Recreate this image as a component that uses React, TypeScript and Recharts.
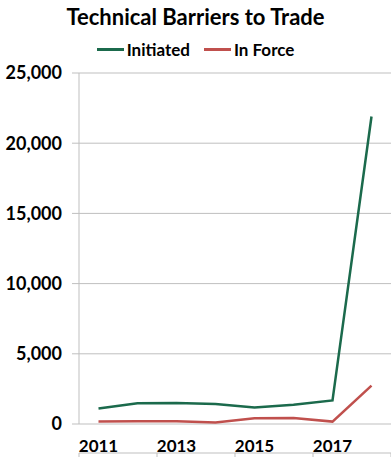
import React from 'react';
import { LineChart, Line, XAxis, YAxis, CartesianGrid } from 'recharts';

const years = [2011, 2012, 2013, 2014, 2015, 2016, 2017, 2018];
const initiated = [1100, 1480, 1500, 1420, 1180, 1370, 1680, 21900];
const inForce = [180, 190, 190, 110, 410, 420, 170, 2730];

const yearLabels = [2011, 2013, 2015, 2017];
const yTicks = [0, 5000, 10000, 15000, 20000, 25000];
// tick marks sit between categories, every other year
const boundaryTicks = [2010.5, 2012.5, 2014.5, 2016.5, 2018.5];

const data = years.map((year, i) => ({
  year,
  initiated: initiated[i],
  inForce: inForce[i],
}));

const GREEN = '#1b6a4c';
const RED = '#c0504d';
const GRID = '#bfbfbf';
const FONT = 'Lato, "Open Sans", sans-serif';

const yTickStyle = { fill: '#000', fontSize: 18, fontWeight: 700, fontFamily: FONT };
const xTickStyle = { fill: '#000', fontSize: 17, fontWeight: 700, fontFamily: FONT };

function LegendItem({ color, label }: { color: string; label: string }) {
  return (
    <span style={{ display: 'inline-flex', alignItems: 'center', margin: '0 7px' }}>
      <span style={{ width: 27, height: 3, background: color, marginRight: 3 }} />
      {label}
    </span>
  );
}

export default function App() {
  return (
    <div
      style={{
        position: 'absolute',
        left: 0,
        top: 0,
        width: 391,
        height: 457,
        background: '#fff',
        fontFamily: FONT,
      }}
    >
      <div
        style={{
          position: 'absolute',
          top: 3,
          width: 391,
          textAlign: 'center',
          fontSize: 22,
          fontWeight: 700,
          color: '#000',
        }}
      >
        Technical Barriers to Trade
      </div>
      <div
        style={{
          position: 'absolute',
          top: 39,
          width: 391,
          display: 'flex',
          justifyContent: 'center',
          fontSize: 17,
          fontWeight: 700,
          color: '#000',
        }}
      >
        <LegendItem color={GREEN} label="Initiated" />
        <LegendItem color={RED} label="In Force" />
      </div>
      <LineChart
        width={391}
        height={457}
        data={data}
        margin={{ top: 73, right: 0, bottom: 3, left: 0 }}
      >
        <CartesianGrid vertical={false} stroke={GRID} />
        <XAxis
          xAxisId="marks"
          dataKey="year"
          type="number"
          domain={[2010.5, 2018.5]}
          ticks={boundaryTicks}
          tick={() => <g />}
          height={1}
          tickSize={6}
          axisLine={{ stroke: GRID }}
          tickLine={{ stroke: GRID }}
        />
        <XAxis
          xAxisId="labels"
          dataKey="year"
          type="number"
          domain={[2010.5, 2018.5]}
          ticks={yearLabels}
          height={29}
          axisLine={false}
          tickLine={false}
          tickMargin={10}
          tick={xTickStyle}
        />
        <YAxis
          width={79}
          domain={[0, 25000]}
          ticks={yTicks}
          tickFormatter={(v: number) => v.toLocaleString('en-US')}
          axisLine={{ stroke: GRID }}
          tickLine={{ stroke: GRID }}
          tickSize={7}
          tickMargin={10}
          tick={yTickStyle}
        />
        <Line
          xAxisId="labels"
          type="linear"
          dataKey="initiated"
          stroke={GREEN}
          strokeWidth={2.5}
          dot={false}
          isAnimationActive={false}
        />
        <Line
          xAxisId="labels"
          type="linear"
          dataKey="inForce"
          stroke={RED}
          strokeWidth={2.5}
          dot={false}
          isAnimationActive={false}
        />
      </LineChart>
    </div>
  );
}
